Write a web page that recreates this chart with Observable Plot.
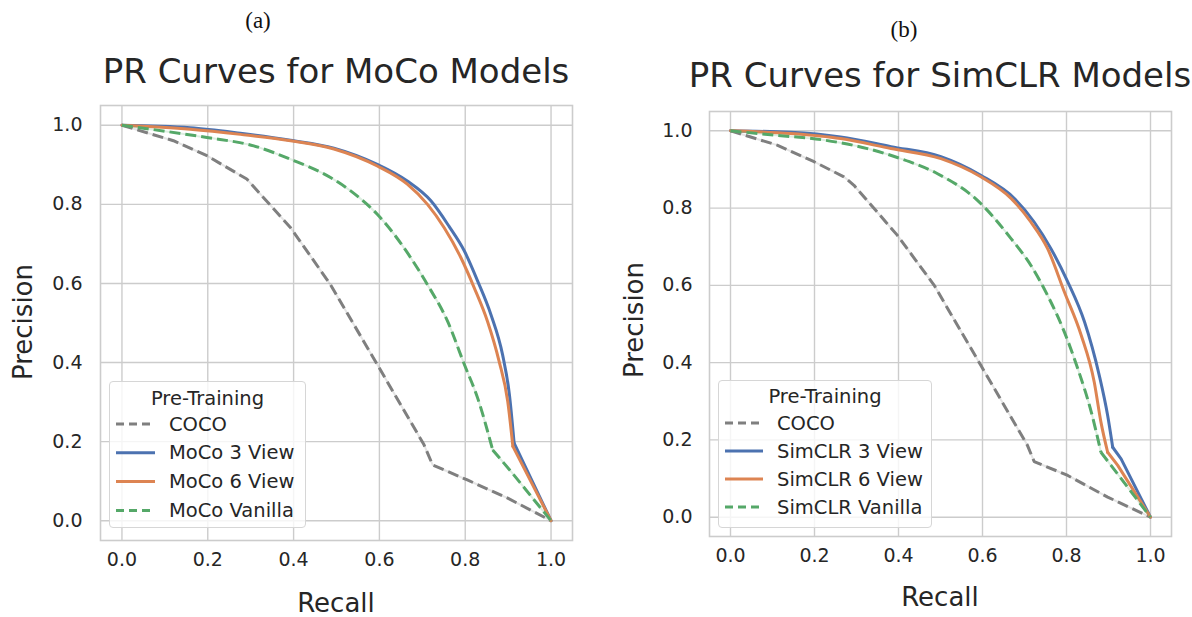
<!DOCTYPE html>
<html>
<head>
<meta charset="utf-8">
<script src="https://cdn.jsdelivr.net/npm/d3@7"></script>
<script src="https://cdn.jsdelivr.net/npm/@observablehq/plot@0.6"></script>
<style>
  html, body { margin: 0; padding: 0; background: #fff; }
  #root { position: relative; width: 1192px; height: 617px; overflow: hidden; font-family: "DejaVu Sans", sans-serif; color: #262626; }
  .abs { position: absolute; }
  .txt { position: absolute; transform: translate(-50%, -50%); white-space: nowrap; }
  .sub { font-family: "Liberation Serif", "DejaVu Serif", serif; font-size: 23px; color: #111; }
  .title { font-size: 34px; }
  .alabel { font-size: 26px; }
  .legend { position: absolute; border: 1.3px solid #d6d6d6; border-radius: 4px; background: rgba(255,255,255,0.8); box-sizing: border-box; }
</style>
</head>
<body>
<div id="root"></div>
<script>
// ---------- data ----------
const tickValues = [0, 0.2, 0.4, 0.6, 0.8, 1.0];
const tickLabels = ["0.0", "0.2", "0.4", "0.6", "0.8", "1.0"];

const mocoNames = ["COCO", "MoCo 3 View", "MoCo 6 View", "MoCo Vanilla"];
const simclrNames = ["COCO", "SimCLR 3 View", "SimCLR 6 View", "SimCLR Vanilla"];
const seriesColors = ["#7f7f7f", "#4c72b0", "#dd8452", "#55a868"];
const seriesDashed = [true, false, false, true];
// number of trailing points (from the kink on) that form straight segments; 0 = whole series straight
const mocoTailPoints = [0, 2, 2, 3];
const simclrTailPoints = [0, 3, 3, 3];

// Panel (a): MoCo
const mocoCocoRecall    = [0, 0.12, 0.198, 0.291, 0.393, 0.486, 0.595, 0.704, 0.724, 0.805, 0.899, 1];
const mocoCocoPrecision = [1, 0.961, 0.923, 0.864, 0.741, 0.597, 0.395, 0.192, 0.141, 0.103, 0.057, 0];
const moco3Recall    = [0, 0.159, 0.276, 0.393, 0.494, 0.595, 0.665, 0.720, 0.762, 0.798, 0.829, 0.860, 0.887, 0.903, 0.914, 1];
const moco3Precision = [1, 0.994, 0.980, 0.962, 0.942, 0.901, 0.859, 0.809, 0.745, 0.682, 0.606, 0.521, 0.420, 0.319, 0.196, 0];
const moco6Recall    = [0, 0.159, 0.276, 0.393, 0.494, 0.595, 0.665, 0.712, 0.751, 0.790, 0.821, 0.852, 0.879, 0.899, 0.911, 1];
const moco6Precision = [1, 0.990, 0.977, 0.961, 0.940, 0.897, 0.851, 0.800, 0.741, 0.665, 0.589, 0.504, 0.403, 0.302, 0.188, 0];
const mocoVanillaRecall    = [0, 0.10, 0.198, 0.307, 0.393, 0.486, 0.533, 0.595, 0.673, 0.712, 0.759, 0.798, 0.829, 0.864, 0.907, 1];
const mocoVanillaPrecision = [1, 0.985, 0.969, 0.948, 0.914, 0.868, 0.834, 0.775, 0.665, 0.597, 0.504, 0.395, 0.310, 0.179, 0.124, 0];

// Panel (b): SimCLR
const simCocoRecall    = [0, 0.111, 0.199, 0.270, 0.294, 0.397, 0.485, 0.596, 0.707, 0.723, 0.803, 0.898, 1];
const simCocoPrecision = [1, 0.963, 0.920, 0.881, 0.859, 0.730, 0.600, 0.393, 0.186, 0.144, 0.108, 0.052, 0];
const sim3Recall    = [0, 0.143, 0.262, 0.382, 0.501, 0.596, 0.676, 0.723, 0.763, 0.803, 0.843, 0.878, 0.898, 0.910, 0.930, 1];
const sim3Precision = [1, 0.996, 0.984, 0.959, 0.933, 0.885, 0.825, 0.764, 0.695, 0.609, 0.505, 0.367, 0.263, 0.181, 0.151, 0];
const sim6Recall    = [0, 0.143, 0.262, 0.382, 0.501, 0.596, 0.668, 0.715, 0.755, 0.795, 0.835, 0.866, 0.882, 0.898, 0.922, 1];
const sim6Precision = [1, 0.993, 0.980, 0.954, 0.928, 0.881, 0.825, 0.764, 0.695, 0.583, 0.471, 0.350, 0.246, 0.168, 0.134, 0];
const simVanillaRecall    = [0, 0.103, 0.223, 0.326, 0.405, 0.493, 0.588, 0.668, 0.715, 0.755, 0.795, 0.827, 0.859, 0.882, 0.906, 1];
const simVanillaPrecision = [1, 0.989, 0.976, 0.954, 0.928, 0.889, 0.820, 0.721, 0.652, 0.574, 0.479, 0.384, 0.272, 0.168, 0.134, 0];

// ---------- build ----------
const root = document.getElementById("root");
function addText(cls, text, x, y, rotate) {
  const d = document.createElement("div");
  d.className = "txt " + cls;
  d.textContent = text;
  d.style.left = x + "px";
  d.style.top = y + "px";
  if (rotate) d.style.transform = "translate(-50%, -50%) rotate(-90deg)";
  root.appendChild(d);
}

function makeRows(names, recalls, precisions) {
  return names.map((name, k) => recalls[k].map((r, i) => ({name, r, p: precisions[k][i]})));
}

function panel(cfg) {
  const rowsBySeries = makeRows(cfg.names, cfg.recalls, cfg.precisions);
  const marks = [
    Plot.gridX({ticks: tickValues, stroke: "#cccccc", strokeOpacity: 1, strokeWidth: 1.4}),
    Plot.gridY({ticks: tickValues, stroke: "#cccccc", strokeOpacity: 1, strokeWidth: 1.4}),
    Plot.frame({stroke: "#cccccc", strokeWidth: 1.6})
  ];
  rowsBySeries.forEach((rows, k) => {
    const tail = cfg.tails[k];
    const parts = tail === 0
      ? [[rows, "linear"]]
      : [[rows.slice(0, rows.length - tail + 1), "monotone-x"], [rows.slice(rows.length - tail), "linear"]];
    parts.forEach(([seg, curve]) => {
      if (seriesDashed[k]) {
        marks.push(Plot.line(seg, {x: "r", y: "p", curve, stroke: seriesColors[k], strokeWidth: 2, strokeOpacity: 0.2}));
      }
      marks.push(Plot.line(seg, {
        x: "r", y: "p", curve, stroke: seriesColors[k], strokeWidth: 3,
        strokeDasharray: seriesDashed[k] ? "11,5" : null,
        strokeLinejoin: "round", strokeLinecap: seriesDashed[k] ? "butt" : "round"
      }));
    });
  });
  marks.push(Plot.axisX({ticks: tickValues, tickFormat: (d) => tickLabels[tickValues.indexOf(d)], tickSize: 0, tickPadding: 12, fontSize: 19, color: "#262626", label: null}));
  marks.push(Plot.axisY({ticks: tickValues, tickFormat: (d) => tickLabels[tickValues.indexOf(d)], tickSize: 0, tickPadding: cfg.yPad, fontSize: 19, color: "#262626", label: null}));

  const svg = Plot.plot({
    width: cfg.width, height: cfg.height,
    marginLeft: cfg.ml, marginRight: cfg.mr, marginTop: cfg.mt, marginBottom: cfg.mb,
    x: {domain: [-0.05, 1.05]},
    y: {domain: [-0.05, 1.05]},
    style: {fontFamily: "DejaVu Sans, sans-serif", background: "transparent", overflow: "visible"},
    marks
  });
  const wrap = document.createElement("div");
  wrap.className = "abs";
  wrap.style.left = cfg.left + "px";
  wrap.style.top = cfg.top + "px";
  wrap.appendChild(svg);
  root.appendChild(wrap);

  // legend
  const lg = document.createElement("div");
  lg.className = "legend";
  lg.style.left = cfg.legend.left + "px";
  lg.style.top = cfg.legend.top + "px";
  lg.style.width = cfg.legend.w + "px";
  lg.style.height = cfg.legend.h + "px";
  const ns = "http://www.w3.org/2000/svg";
  const ls = document.createElementNS(ns, "svg");
  ls.setAttribute("width", cfg.legend.w);
  ls.setAttribute("height", cfg.legend.h);
  ls.style.position = "absolute"; ls.style.left = "-1px"; ls.style.top = "-1px";
  const t = document.createElementNS(ns, "text");
  t.setAttribute("x", cfg.legend.w / 2);
  t.setAttribute("y", cfg.legend.titleY);
  t.setAttribute("text-anchor", "middle");
  t.setAttribute("dominant-baseline", "central");
  t.setAttribute("font-size", "19.5");
  t.setAttribute("font-family", "DejaVu Sans");
  t.setAttribute("fill", "#262626");
  t.textContent = "Pre-Training";
  ls.appendChild(t);
  cfg.names.forEach((name, k) => {
    const y = cfg.legend.row0 + k * cfg.legend.rowStep;
    const ln = document.createElementNS(ns, "line");
    ln.setAttribute("x1", cfg.legend.sx0); ln.setAttribute("x2", cfg.legend.sx1);
    ln.setAttribute("y1", y); ln.setAttribute("y2", y);
    ln.setAttribute("stroke", seriesColors[k]);
    ln.setAttribute("stroke-width", 3);
    if (seriesDashed[k]) ln.setAttribute("stroke-dasharray", "8,5");
    ls.appendChild(ln);
    const tx = document.createElementNS(ns, "text");
    tx.setAttribute("x", cfg.legend.tx);
    tx.setAttribute("y", y);
    tx.setAttribute("dominant-baseline", "central");
    tx.setAttribute("font-size", "19.5");
    tx.setAttribute("font-family", "DejaVu Sans");
    tx.setAttribute("fill", "#262626");
    tx.textContent = name;
    ls.appendChild(tx);
  });
  lg.appendChild(ls);
  root.appendChild(lg);
}

// Panel (a)
panel({
  names: mocoNames, tails: mocoTailPoints,
  recalls: [mocoCocoRecall, moco3Recall, moco6Recall, mocoVanillaRecall],
  precisions: [mocoCocoPrecision, moco3Precision, moco6Precision, mocoVanillaPrecision],
  left: 0, top: 95, width: 596, height: 522, ml: 100, mr: 24, mt: 10, mb: 77, yPad: 18,
  legend: {left: 109, top: 381, w: 197, h: 147, titleY: 17, row0: 43, rowStep: 28.8, sx0: 7, sx1: 46, tx: 60}
});
// Panel (b)
panel({
  names: simclrNames, tails: simclrTailPoints,
  recalls: [simCocoRecall, sim3Recall, sim6Recall, simVanillaRecall],
  precisions: [simCocoPrecision, sim3Precision, sim6Precision, simVanillaPrecision],
  left: 600, top: 101, width: 592, height: 516, ml: 109, mr: 21, mt: 10, mb: 81, yPad: 17,
  legend: {left: 718, top: 380, w: 214, h: 148, titleY: 16, row0: 43, rowStep: 28, sx0: 7, sx1: 45, tx: 59}
});

addText("sub", "(a)", 258, 21);
addText("title", "PR Curves for MoCo Models", 336, 71);
addText("alabel", "Precision", 23, 322, true);
addText("alabel", "Recall", 336, 603);

addText("sub", "(b)", 904, 30);
addText("title", "PR Curves for SimCLR Models", 940, 75);
addText("alabel", "Precision", 634, 320, true);
addText("alabel", "Recall", 940, 597);
</script>
</body>
</html>
